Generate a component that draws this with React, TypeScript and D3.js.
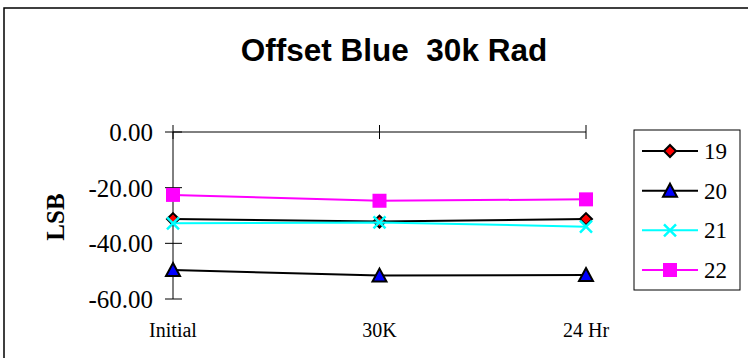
import React from "react";
import * as d3 from "d3";

const categories = ["Initial", "30K", "24 Hr"];
const seriesNames = ["19", "20", "21", "22"];
const s19 = [-31.3, -32.2, -31.3];
const s20 = [-49.6, -51.6, -51.4];
const s21 = [-32.8, -32.5, -34.0];
const s22 = [-22.6, -24.7, -24.2];
const yTicks = [0, -20, -40, -60];
const title = "Offset Blue  30k Rad";
const yLabel = "LSB";

const W = 748;
const H = 358;
const SERIF = "'Liberation Serif', 'Times New Roman', Times, serif";
const SANS = "'Liberation Sans', Arial, Helvetica, sans-serif";

type Style = { line: string; fill: string; stroke: string; marker: string };
const styles: Style[] = [
  { line: "#000", fill: "#ff0000", stroke: "#000", marker: "diamond" },
  { line: "#000", fill: "#0000ff", stroke: "#000", marker: "triangle" },
  { line: "#00ffff", fill: "none", stroke: "#00ffff", marker: "x" },
  { line: "#ff00ff", fill: "#ff00ff", stroke: "#ff00ff", marker: "square" },
];

function Marker({ kind, x, y, st }: { kind: string; x: number; y: number; st: Style }) {
  if (kind === "diamond") {
    const r = 6;
    return (
      <path
        d={`M${x},${y - r}L${x + r},${y}L${x},${y + r}L${x - r},${y}Z`}
        fill={st.fill}
        stroke={st.stroke}
        strokeWidth={2}
      />
    );
  }
  if (kind === "triangle") {
    return (
      <path
        d={`M${x},${y - 7}L${x + 7},${y + 6}L${x - 7},${y + 6}Z`}
        fill={st.fill}
        stroke={st.stroke}
        strokeWidth={2}
        strokeLinejoin="miter"
      />
    );
  }
  if (kind === "x") {
    const r = 6;
    return (
      <path
        d={`M${x - r},${y - r}L${x + r},${y + r}M${x - r},${y + r}L${x + r},${y - r}`}
        stroke={st.stroke}
        strokeWidth={2.5}
        fill="none"
      />
    );
  }
  return <rect x={x - 7} y={y - 7} width={14} height={14} fill={st.fill} />;
}

export default function App() {
  const x = d3.scalePoint<string>().domain(categories).range([173, 586]);
  const y = d3.scaleLinear().domain([-60, 0]).range([299, 132]);
  const data = [s19, s20, s21, s22];
  const line = d3
    .line<number>()
    .x((_, i) => x(categories[i]) as number)
    .y((d) => y(d));

  const legendY = d3.scalePoint<string>().domain(seriesNames).range([151, 270]);

  return (
    <div style={{ position: "fixed", left: 0, top: 0 }}>
      <svg width={W} height={H} style={{ display: "block", background: "#fff" }}>
        <rect x={0} y={0} width={W} height={H} fill="#fff" />
        <rect x={4} y={8} width={W + 20} height={H + 20} fill="none" stroke="#000" strokeWidth={1.5} />
        <text
          x={394}
          y={61}
          textAnchor="middle"
          fontFamily={SANS}
          fontWeight="bold"
          fontSize={31.5}
          style={{ whiteSpace: "pre" }}
        >
          {title}
        </text>
        <text
          transform={`translate(64,217) rotate(-90)`}
          textAnchor="middle"
          fontFamily={SERIF}
          fontWeight="bold"
          fontSize={25}
        >
          {yLabel}
        </text>
        <line x1={173} x2={586} y1={y(0)} y2={y(0)} stroke="#000" strokeWidth={1} />
        {categories.map((c) => (
          <line key={c} x1={x(c)} x2={x(c)} y1={y(0) - 7} y2={y(0) + 7} stroke="#000" strokeWidth={1} />
        ))}
        <line x1={173} x2={173} y1={y(0)} y2={y(-60)} stroke="#000" strokeWidth={1} />
        {yTicks.map((t) => (
          <g key={t}>
            <line x1={165} x2={182} y1={y(t)} y2={y(t)} stroke="#000" strokeWidth={1} />
            <text x={153} y={y(t) + 9} textAnchor="end" fontFamily={SERIF} fontSize={25}>
              {t.toFixed(2)}
            </text>
          </g>
        ))}
        {categories.map((c) => (
          <text key={c} x={x(c)} y={337} textAnchor="middle" fontFamily={SERIF} fontSize={20}>
            {c}
          </text>
        ))}
        {data.map((d, si) => (
          <g key={si}>
            <path d={line(d) || ""} fill="none" stroke={styles[si].line} strokeWidth={2} />
            {d.map((v, i) => (
              <Marker key={i} kind={styles[si].marker} x={x(categories[i]) as number} y={y(v)} st={styles[si]} />
            ))}
          </g>
        ))}
        <rect x={634} y={130} width={106} height={160} fill="#fff" stroke="#000" strokeWidth={1} />
        {seriesNames.map((n, si) => {
          const ly = legendY(n) as number;
          return (
            <g key={n}>
              <line x1={642} x2={698} y1={ly} y2={ly} stroke={styles[si].line} strokeWidth={2} />
              <Marker kind={styles[si].marker} x={670} y={ly} st={styles[si]} />
              <text x={704} y={ly + 8} fontFamily={SERIF} fontSize={23}>
                {n}
              </text>
            </g>
          );
        })}
      </svg>
    </div>
  );
}
